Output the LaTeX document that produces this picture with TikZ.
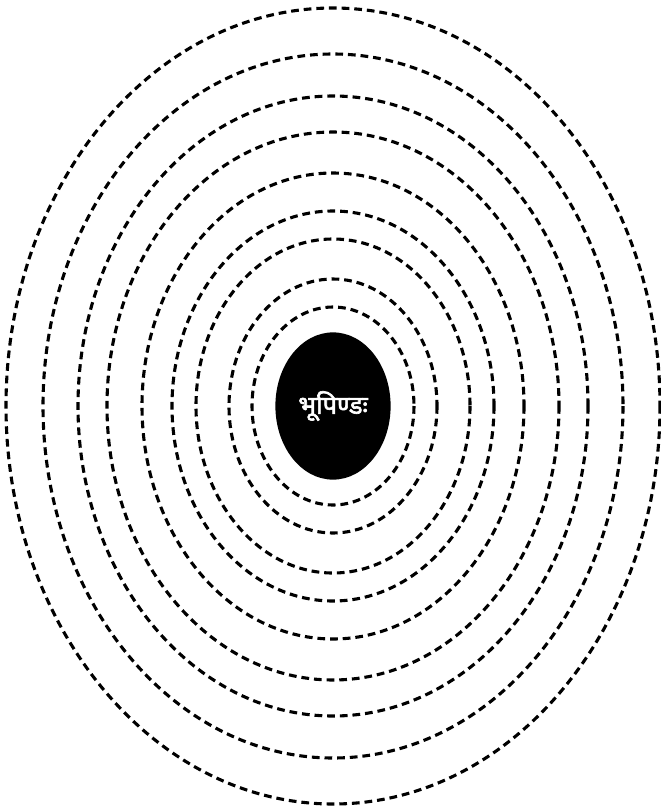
\documentclass[tikz,border=0pt]{standalone}
\usepackage{fontspec}
\newfontfamily\devfont[Script=Devanagari,FakeBold=2.5]{Noto Sans}
\usetikzlibrary{shapes.geometric}
\begin{document}
\begin{tikzpicture}[x=0.025cm,y=-0.025cm,
    orbit/.style={line width=2.2pt,dash pattern=on 5.5pt off 3.5pt},
    globe/.style={ellipse,fill=black,inner sep=0pt,minimum width=2.88cm,minimum height=3.68cm,
        text=white,font=\devfont\fontsize{18}{20}\selectfont}]
\useasboundingbox (0,0) rectangle (661,810);
\coordinate (c) at (333,406);
\foreach \a/\b in {81/99,104/127,137/167,161/195,191/233,226/274,255/310,290/352,327/398}
    \draw [orbit] (c) ellipse [x radius=\a, y radius=\b];
\node [globe] (bhu) at (c) {भूपिण्डः};
\end{tikzpicture}
\end{document}
